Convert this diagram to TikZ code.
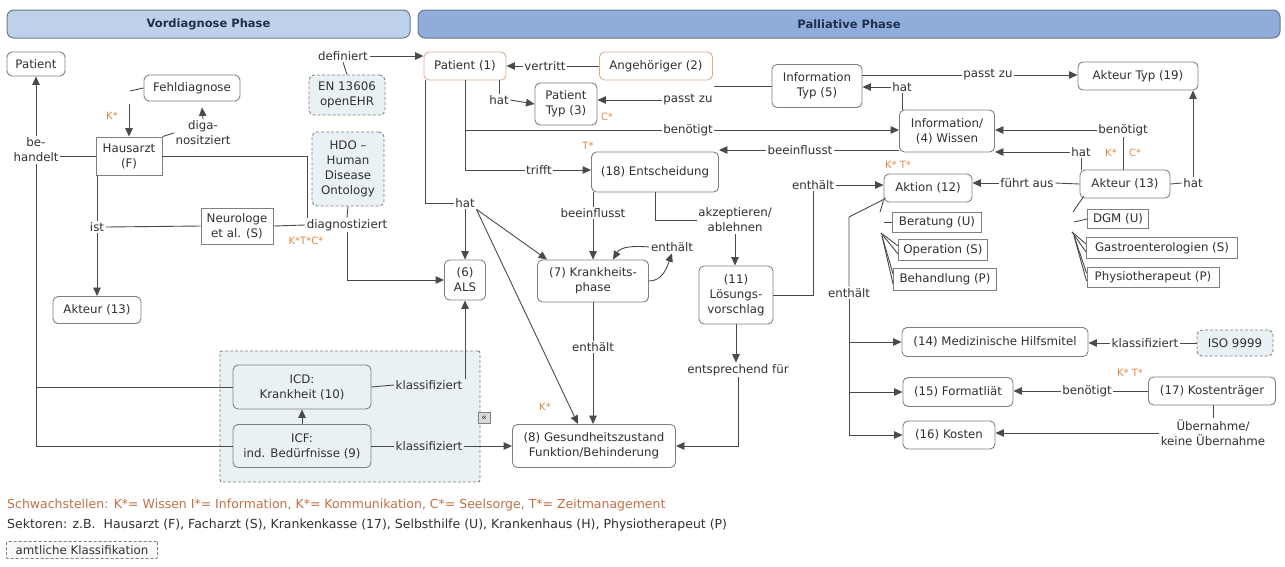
\documentclass[tikz,border=0pt]{standalone}
\usepackage{fontspec}
\setmainfont{DejaVu Sans}
\usetikzlibrary{arrows.meta,calc}
\definecolor{lineC}{HTML}{4A4A4A}
\definecolor{boxC}{HTML}{808080}
\definecolor{txtC}{HTML}{303030}
\definecolor{orgC}{HTML}{E08A45}
\definecolor{schwC}{HTML}{C07045}
\definecolor{orgB}{HTML}{D9AE90}
\definecolor{lightF}{HTML}{EAF1F4}
\definecolor{hdrV}{HTML}{BDD1EA}
\definecolor{hdrP}{HTML}{8FACDA}
\definecolor{hdrB}{HTML}{6A7A8A}
\definecolor{hdrT}{HTML}{1F2F4F}
\begin{document}
\begin{tikzpicture}[x=1pt,y=-1pt,
  every node/.style={font=\fontsize{11.8}{15}\selectfont, text=txtC},
  concept/.style={draw=boxC, line width=0.9pt, rounded corners=5pt, fill=white, align=center, inner sep=2pt},
  sqbox/.style={draw=boxC, line width=0.9pt, fill=white, align=center, inner sep=2pt},
  dbox/.style={draw=boxC, line width=0.9pt, dash pattern=on 3pt off 2pt, rounded corners=5pt, fill=lightF, align=center, inner sep=2pt},
  obox/.style={concept, draw=orgB},
  lbl/.style={align=center, inner sep=1.5pt},
  olbl/.style={text=orgC, inner sep=1pt, font=\fontsize{10}{12}\selectfont},
  conn/.style={draw=lineC, line width=0.9pt},
  arr/.style={conn, -{Triangle[length=8.5pt,width=7.5pt]}},
  hdr/.style={draw=hdrB, line width=1pt, rounded corners=7pt, font=\fontsize{11.5}{13}\selectfont\bfseries, text=hdrT},
  legend/.style={anchor=west, inner sep=0pt, font=\fontsize{12.5}{15}\selectfont}
]
\useasboundingbox (0,0) rectangle (1285,566);

% headers
\node[hdr, fill=hdrV, minimum width=403, minimum height=28] (hv) at (208.5,24) {Vordiagnose Phase};
\node[hdr, fill=hdrP, minimum width=862, minimum height=28] (hp) at (849,24) {Palliative Phase};

% group container
\node[dbox, rounded corners=2pt, minimum width=260, minimum height=131] (grp) at (350,416.5) {};

% Vordiagnose concepts
\node[concept, minimum width=58, minimum height=24] (patL) at (36,64) {Patient};
\node[concept, minimum width=96, minimum height=26] (fehl) at (192,88) {Fehldiagnose};
\node[sqbox, minimum width=66, minimum height=38] (haus) at (129,156) {Hausarzt\\(F)};
\node[sqbox, minimum width=72, minimum height=36] (neuro) at (237,226) {Neurologe\\et al. (S)};
\node[concept, minimum width=88, minimum height=27] (akL) at (97,310) {Akteur (13)};
\node[dbox, minimum width=76, minimum height=40] (en) at (347,95) {EN 13606\\openEHR};
\node[dbox, minimum width=72, minimum height=74] (hdo) at (348,169) {HDO --\\Human\\Disease\\Ontology};

% Palliative concepts
\node[obox, minimum width=82, minimum height=28] (p1) at (465,66) {Patient (1)};
\node[obox, minimum width=113, minimum height=28] (ang) at (656,66) {Angehöriger (2)};
\node[concept, minimum width=62, minimum height=42] (pt3) at (566,104) {Patient\\Typ (3)};
\node[concept, minimum width=90, minimum height=43] (it5) at (817,86) {Information\\Typ (5)};
\node[concept, minimum width=120, minimum height=28] (at19) at (1138,76) {Akteur Typ (19)};
\node[concept, minimum width=95, minimum height=42] (w4) at (947,131) {Information/\\(4) Wissen};
\node[concept, minimum width=127, minimum height=40] (ent) at (655,172) {(18) Entscheidung};
\node[concept, minimum width=88, minimum height=28] (akt12) at (928,188) {Aktion (12)};
\node[concept, minimum width=90, minimum height=28] (ak13) at (1125,184) {Akteur (13)};
\node[sqbox, minimum width=89, minimum height=20] (ber) at (937,222) {Beratung (U)};
\node[sqbox, minimum width=89, minimum height=21] (ope) at (943,250) {Operation (S)};
\node[sqbox, minimum width=103, minimum height=22] (behd) at (945,279) {Behandlung (P)};
\node[sqbox, minimum width=61, minimum height=19] (dgm) at (1118,219) {DGM (U)};
\node[sqbox, minimum width=151, minimum height=21] (gas) at (1162,248) {Gastroenterologien (S)};
\node[sqbox, minimum width=132, minimum height=20] (phy) at (1153,277) {Physiotherapeut (P)};
\node[concept, minimum width=41, minimum height=40] (als) at (465,280) {(6)\\ALS};
\node[concept, minimum width=111, minimum height=42] (kp) at (593,281) {(7) Krankheits-\\phase};
\node[concept, minimum width=74, minimum height=58] (lv) at (736,295) {(11)\\Lösungs-\\vorschlag};
\node[concept, minimum width=186, minimum height=29] (m14) at (995,342) {(14) Medizinische Hilfsmitel};
\node[dbox, minimum width=76, minimum height=26] (iso) at (1235,343) {ISO 9999};
\node[concept, minimum width=110, minimum height=29] (f15) at (958,392) {(15) Formatliät};
\node[concept, minimum width=92, minimum height=28] (k16) at (949,435) {(16) Kosten};
\node[concept, minimum width=127, minimum height=28] (k17) at (1212,391) {(17) Kostenträger};
\node[concept, fill=lightF, minimum width=138, minimum height=44] (icd) at (302,387) {ICD:\\Krankheit (10)};
\node[concept, fill=lightF, minimum width=138, minimum height=43] (icf) at (302,446) {ICF:\\ind. Bedürfnisse (9)};
\node[concept, minimum width=163, minimum height=43] (g8) at (594,446) {(8) Gesundheitszustand\\Funktion/Behinderung};
\node[draw=boxC, fill=gray!30, minimum width=12, minimum height=11, inner sep=0pt, font=\fontsize{9}{9}\selectfont] (icon) at (484,418) {«};

% linking phrases
\node[lbl] (lbBeh) at (36,150) {be-\\handelt};
\node[lbl] (diag1) at (203,133) {diga-\\nositziert};
\node[olbl] (kF) at (112,116) {K*};
\node[lbl] (ist) at (97,227) {ist};
\node[lbl] (diag2) at (347,225) {diagnostiziert};
\node[olbl] (ktc) at (306,241) {K*T*C*};
\node[lbl] (def) at (343,56) {definiert};
\node[lbl] (vert) at (545,66) {vertritt};
\node[lbl] (hat1) at (499,100) {hat};
\node[lbl] (pz1) at (688,100) {passt zu};
\node[olbl] (cS) at (607,117) {C*};
\node[lbl] (pz2) at (988,75) {passt zu};
\node[lbl] (hat3) at (902,87) {hat};
\node[lbl] (bn1) at (688,130) {benötigt};
\node[lbl] (trifft) at (539,170) {trifft};
\node[olbl] (tS) at (588,146) {T*};
\node[lbl] (hat2) at (465,203) {hat};
\node[lbl] (bf1) at (593,213) {beeinflusst};
\node[lbl] (akz) at (735,220) {akzeptieren/\\ablehnen};
\node[lbl] (enth1) at (672,247) {enthält};
\node[lbl] (enth2) at (593,347) {enthält};
\node[lbl] (esf) at (738,370) {entsprechend für};
\node[lbl] (enth3) at (813,185) {enthält};
\node[lbl] (enth4) at (849,293) {enthält};
\node[olbl] (kt1) at (898,165) {K* T*};
\node[lbl] (fa) at (1027,183) {führt aus};
\node[lbl] (hat4) at (1081,152) {hat};
\node[lbl] (bn2) at (1123,130) {benötigt};
\node[olbl] (kS) at (1111,153) {K*};
\node[olbl] (cS2) at (1135,153) {C*};
\node[lbl] (hat5) at (1193,183) {hat};
\node[lbl] (bf2) at (800,150) {beeinflusst};
\node[lbl] (kl1) at (429,385) {klassifiziert};
\node[lbl] (kl2) at (429,446) {klassifiziert};
\node[olbl] (kE) at (545,407) {K*};
\node[lbl] (kl3) at (1145,343) {klassifiziert};
\node[lbl] (bn3) at (1087,391) {benötigt};
\node[olbl] (kt2) at (1130,373) {K* T*};
\node[lbl] (ub) at (1213,433) {Übernahme/\\keine Übernahme};

% coordinates for free ends
\coordinate (fA) at (130,91);
\coordinate (fB) at (129,104);
\coordinate (eA) at (849,217);
\coordinate (aS) at (880,212);
\coordinate (bA) at (884,222);
\coordinate (oA) at (881,233);
\coordinate (hA) at (882,236);
\coordinate (kS1) at (1073,212);
\coordinate (dA) at (1074,222);
\coordinate (gA) at (1072,232);
\coordinate (pA) at (1074,236);

% ---- connectors: Vordiagnose
\draw[arr] (lbBeh.north) -- (patL.south);
\draw[conn] (haus.west) -- (haus.west -| lbBeh.east);
\draw[conn] (icd.west) -| (lbBeh.south);
\draw[conn] (icf.west) -| (lbBeh.south);
\draw[conn] (fehl.west) -- (fA);
\draw[arr] (fB) -- (fB |- haus.north);
\draw[conn] (haus.north east) -- (diag1.west);
\draw[arr] (diag1.north) -- ($(fehl.south)+(10,6)$);
\draw[conn] (ist |- haus.south) -- (ist.north);
\draw[arr] (ist.south) -- (akL.north);
\draw[conn] (neuro.west) -- (ist.east);
\draw[conn] (neuro.east) -- (diag2.west);
\draw[conn] (haus.east) -| ($(diag2.north west)+(2,0)$);
\draw[conn] (hdo.south) -- (diag2.north);
\draw[arr] (diag2.south) |- (als.west);
\draw[conn] (en.north) -- (def.south);
\draw[arr] (def.east) -- (def.east -| p1.west);

% ---- connectors: Palliative
\draw[conn] (ang.west) -- (vert.east);
\draw[arr] (vert.west) -- (p1.east);
\draw[conn] (hat1.north |- p1.south) -- (hat1.north);
\draw[arr] (hat1.east) -- (pt3.west);
\draw[conn] (it5.west) -- (it5.west -| pz1.east);
\draw[arr] (pz1.west) -- (pz1.west -| pt3.east);
\draw[conn] (it5.east |- pz2) -- (pz2.west);
\draw[arr] (pz2.east) -- (pz2.east -| at19.west);
\draw[conn] (w4.north -| hat3) -- (hat3.south);
\draw[arr] (hat3.west) -- (hat3.west -| it5.east);
\draw[conn] (p1.south) |- (bn1.west);
\draw[arr] (bn1.east) -- (bn1.east -| w4.west);
\draw[conn] (p1.south) |- (trifft.west);
\draw[arr] (trifft.east) -- (trifft.east -| ent.west);
\draw[conn] ($(p1.south west)+(2,0)$) |- (hat2.west);
\draw[arr] (hat2.south) -- (als.north);
\draw[arr] (hat2.south east) -- ($(kp.north west)+(10,0)$);
\draw[arr] (hat2.south east) -- ($(g8.north)+(-16,0)$);
\draw[conn] (w4.west |- bf2) -- (bf2.east);
\draw[arr] (bf2.west) -- (bf2.west -| ent.east);
\draw[conn] (ent.south -| bf1) -- (bf1.north);
\draw[arr] (bf1.south) -- (kp.north);
\draw[conn] (ent.south) |- (akz.west);
\draw[arr] (akz.south) -- (akz.south |- lv.north);
\draw[arr] (kp.east) to[out=0,in=-110] (enth1.south);
\draw[arr] (enth1.west) to[out=175,in=60] ($(kp.north)+(20,0)$);
\draw[conn] (kp.south) -- (enth2.north);
\draw[arr] (enth2.south) -- (enth2.south |- g8.north);
\draw[arr] (lv.south) -- (lv.south |- esf.north);
\draw[arr] (esf.south) |- (g8.east);
\draw[conn] (lv.east) -| (enth3.south);
\draw[arr] (enth3.east) -- (enth3.east -| akt12.west);
\draw[conn] ($(akt12.south west)+(2,-4)$) -- (eA) -- (eA |- enth4.north);
\draw[conn] (enth4.south) -- (enth4.south |- k16.west);
\draw[arr] (enth4.south |- m14.west) -- (m14.west);
\draw[arr] (enth4.south |- f15.west) -- (f15.west);
\draw[arr] (enth4.south |- k16.west) -- (k16.west);
% Aktion sub-items
\draw[conn] ($(akt12.south west)+(0,-2)$) -- (aS);
\draw[conn] (bA) -- (ber.west);
\draw[conn] (oA) -- ($(ope.west)+(0,-4)$);
\draw[conn] (oA) -- ($(ope.west)+(0,4)$);
\draw[conn] (hA) -- ($(behd.west)+(0,-5)$);
\draw[conn] (hA) -- ($(behd.west)+(0,5)$);
% Akteur
\draw[conn] (ak13.west) -- (fa.east);
\draw[arr] (fa.west) -- (fa.west -| akt12.east);
\draw[conn] (ak13.north -| hat4) -- (hat4.south);
\draw[arr] (hat4.west) -- (hat4.west -| w4.east);
\draw[conn] (ak13.north -| bn2) -- (bn2.south);
\draw[arr] (bn2.west) -- (bn2.west -| w4.east);
\draw[conn] (ak13.east) -- (hat5.west);
\draw[arr] (hat5.north) -- (hat5.north |- at19.south);
\draw[conn] ($(ak13.south west)+(4,-2)$) -- (kS1);
\draw[conn] (dA) -- (dgm.west);
\draw[conn] (gA) -- ($(gas.west)+(0,-4)$);
\draw[conn] (gA) -- ($(gas.west)+(0,4)$);
\draw[conn] (pA) -- ($(phy.west)+(0,-4)$);
\draw[conn] (pA) -- ($(phy.west)+(0,4)$);
% bottom
\draw[conn] (icd.east) -- (kl1.west);
\draw[arr] (kl1.north -| als.south) -- (als.south);
\draw[conn] (icf.east) -- (kl2.west);
\draw[arr] (kl2.east) -- (kl2.east -| g8.west);
\draw[arr] (icf.north) -- (icd.south);
\draw[conn] (iso.west) -- (kl3.east);
\draw[arr] (kl3.west) -- (kl3.west -| m14.east);
\draw[conn] (k17.west) -- (bn3.east);
\draw[arr] (bn3.west) -- (bn3.west -| f15.east);
\draw[conn] (k17.south -| ub.north) -- (ub.north);
\draw[arr] (ub.west) -- (ub.west -| k16.east);

% legend
\node[legend, text=schwC] (leg1) at (7,505) {Schwachstellen: K*= Wissen I*= Information, K*= Kommunikation, C*= Seelsorge, T*= Zeitmanagement};
\node[legend] (leg2) at (7,525) {Sektoren: z.B.\ \ Hausarzt (F), Facharzt (S), Krankenkasse (17), Selbsthilfe (U), Krankenhaus (H), Physiotherapeut (P)};
\node[dbox, fill=lightF!40, rounded corners=1pt, minimum width=151, minimum height=17, inner sep=1pt] (legK) at (82,550) {amtliche Klassifikation};
\end{tikzpicture}
\end{document}
